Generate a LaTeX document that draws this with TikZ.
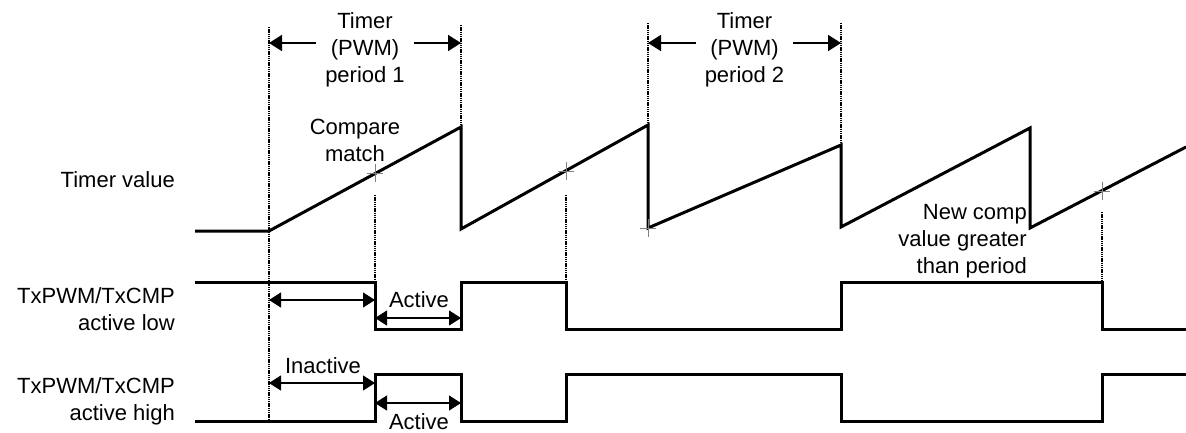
\documentclass[tikz,border=0pt]{standalone}
\usepackage{fontspec}
\setmainfont{Liberation Sans}
\usetikzlibrary{arrows.meta}

\begin{document}
\begin{tikzpicture}[x=1pt, y=-1pt, line join=miter, font=\fontsize{22}{27}\selectfont, >={Triangle[length=13pt,width=16pt]}]
			\tikzset{label style/.style={inner sep=0pt},
				wave/.style={line width=3pt},
				guide/.style={dash pattern=on 1.4pt off 0.8pt, line width=1.4pt},
				cross/.style={gray, line width=0.8pt},
				period arrow/.style={->, line width=1.8pt},
				span arrow/.style={{Triangle[length=12pt,width=15pt]}-{Triangle[length=12pt,width=15pt]}, line width=1.2pt}}
			\useasboundingbox (0,0) rectangle (1186,432);
			% event columns
			\coordinate (e0) at (269,0);
			\coordinate (m1) at (375,0);
			\coordinate (e1) at (461,0);
			\coordinate (m2) at (566,0);
			\coordinate (e2) at (648,0);
			\coordinate (e3) at (841,0);
			\coordinate (e4) at (1030,0);
			\coordinate (m5) at (1102,0);
			% waveforms
			\draw[wave] (195,231) -- (269,231) -- (461,127) -- (461,229) -- (648,125) -- (648,228) -- (841,145) -- (841,227) -- (1030,128) -- (1030,228) -- (1186,147);
			\draw[wave] (195,282) -- (375,282) -- (375,329) -- (461,329) -- (461,282) -- (566,282) -- (566,329) -- (841,329) -- (841,282) -- (1102,282) -- (1102,329) -- (1186,329);
			\draw[wave] (195,421) -- (375,421) -- (375,374) -- (461,374) -- (461,421) -- (566,421) -- (566,374) -- (841,374) -- (841,421) -- (1102,421) -- (1102,374) -- (1186,374);
			% guides
			\draw[guide] (e0 |- 0,27) -- (e0 |- 0,421);
			\draw[guide] (e1 |- 0,25) -- (e1 |- 0,127);
			\draw[guide] (e2 |- 0,23) -- (e2 |- 0,125);
			\draw[guide] (e3 |- 0,23) -- (e3 |- 0,145);
			\draw[guide] (m1 |- 0,195) -- (m1 |- 0,282);
			\draw[guide] (m2 |- 0,195) -- (m2 |- 0,282);
			\draw[guide] (m5 |- 0,212) -- (m5 |- 0,282);
			\foreach \x/\y in {375/173, 566/171, 648/228, 1102/191}
				\draw[cross] (\x-8,\y) -- (\x+8,\y) (\x,\y-9) -- (\x,\y+9);
			% labels
			\node[label style, anchor=base east] (tv) at (175,187) {Timer value};
			\node[label style, anchor=north east, align=right] (lo) at (175,287) {TxPWM/TxCMP\\active low};
			\node[label style, anchor=north east, align=right] (hi) at (175,377) {TxPWM/TxCMP\\active high};
			\node[label style, anchor=north, align=center, inner xsep=9pt] (per1) at (365,12) {Timer\\(PWM)\\period 1};
			\node[label style, anchor=north, align=center, inner xsep=9pt] (per2) at (744.5,12) {Timer\\(PWM)\\period 2};
			\node[label style, anchor=north, align=center] (cmp) at (355,119) {Compare\\match};
			\node[label style, anchor=north east, align=right] (newcmp) at (1027,204) {New comp\\value greater\\than period};
			\node[label style, anchor=base] (act1) at (419,307) {Active};
			\node[label style, anchor=base] (inact) at (323,373) {Inactive};
			\node[label style, anchor=base] (act2) at (419,429) {Active};
			% period arrows
			\draw[period arrow] (per1.west |- 0,43) -- (e0 |- 0,43);
			\draw[period arrow] (per1.east |- 0,43) -- (e1 |- 0,43);
			\draw[period arrow] (per2.west |- 0,43) -- (e2 |- 0,43);
			\draw[period arrow] (per2.east |- 0,43) -- (e3 |- 0,43);
			% active / inactive spans
			\draw[span arrow] (e0 |- 0,300) -- (m1 |- 0,300);
			\draw[span arrow] (m1 |- 0,318) -- (e1 |- 0,318);
			\draw[span arrow] (e0 |- 0,383) -- (m1 |- 0,383);
			\draw[span arrow] (m1 |- 0,403) -- (e1 |- 0,403);
		\end{tikzpicture}
\end{document}
